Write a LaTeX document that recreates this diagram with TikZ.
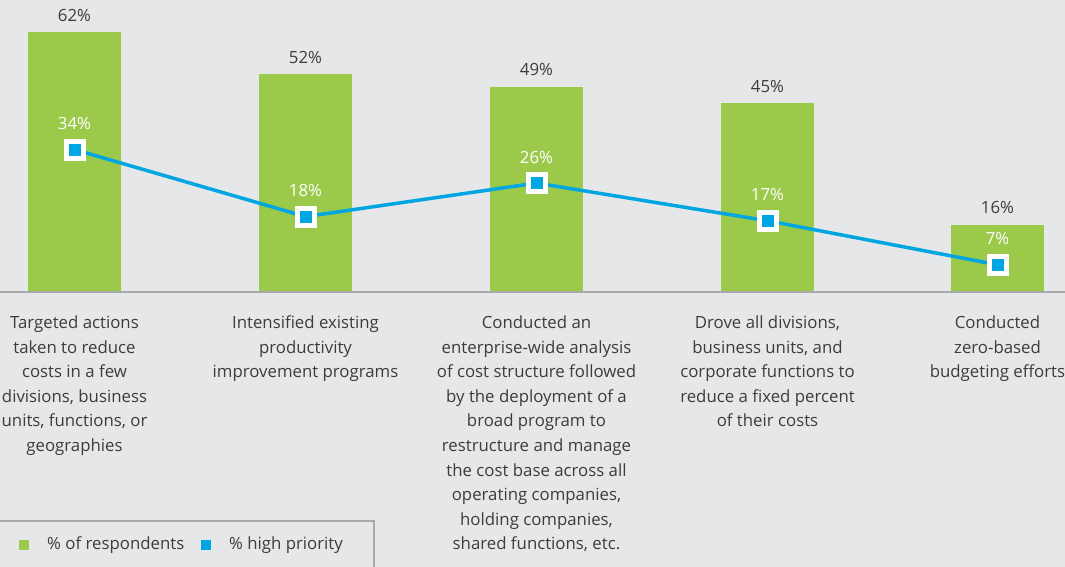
\documentclass[tikz,border=0pt]{standalone}
\usepackage{fontspec}
\setmainfont{Open Sans}
\definecolor{bg}{HTML}{E6E7E8}
\definecolor{bargreen}{HTML}{9BCA4B}
\definecolor{lineblue}{HTML}{00A6E2}
\definecolor{txt}{HTML}{3C3C3C}
\definecolor{axisgray}{HTML}{A8A9AB}
\begin{document}
\begin{tikzpicture}[x=1pt,y=-1pt,
  bar/.style={fill=bargreen,draw=none},
  toplabel/.style={text=txt,font=\fontsize{16.8}{20}\selectfont,anchor=center,inner sep=0pt},
  mklabel/.style={text=white,font=\fontsize{16.8}{20}\selectfont,anchor=center,inner sep=0pt},
  marker/.style={draw=white,line width=5pt,fill=lineblue,minimum size=17pt,inner sep=0pt},
  catlabel/.style={text=txt,font=\fontsize{16.8}{24.6}\selectfont,align=center,anchor=north,inner sep=0pt},
  legtext/.style={text=txt,font=\fontsize{16.8}{20}\selectfont,anchor=west,inner sep=0pt},
  legsq/.style={minimum size=10pt,inner sep=0pt,draw=none}]
\useasboundingbox[fill=bg] (0,0) rectangle (1065,567);
% bars
\foreach \cx/\v/\name in {74.5/62/b1,305.5/52/b2,536.5/49/b3,767.5/45/b4,997.5/16/b5}{
  \fill[bar] (\cx-46.5,292) rectangle (\cx+46.5,292-4.19*\v);
  \node[toplabel] (\name t) at (\cx,292-4.19*\v-17) {\v\%};
}
% axis
\draw[axisgray,line width=2pt] (0,292) -- (1065,292);
% markers
\foreach \cx/\v/\name in {74.5/34/m1,305.5/18/m2,536.5/26/m3,767.5/17/m4,997.5/6.5/m5}{
  \coordinate (\name) at (\cx,292-4.19*\v);
}
\draw[lineblue,line width=3.5pt] (m1) -- (m2) -- (m3) -- (m4) -- (m5);
\foreach \n/\v in {m1/34,m2/18,m3/26,m4/17,m5/7}{
  \node[marker] (\n s) at (\n) {};
  \node[mklabel] (\n l) at ([yshift=26pt]\n) {\v\%};
}
% category labels
\node[catlabel] (c1) at (74.5,315.5) {Targeted actions\\taken to reduce\\costs in a few\\divisions, business\\units, functions, or\\geographies};
\node[catlabel] (c2) at (305.5,315.5) {Intensified existing\\productivity\\improvement programs};
\node[catlabel] (c3) at (536.5,315.5) {Conducted an\\enterprise-wide analysis\\of cost structure followed\\by the deployment of a\\broad program to\\restructure and manage\\the cost base across all\\operating companies,\\holding companies,\\shared functions, etc.};
\node[catlabel] (c4) at (767.5,315.5) {Drove all divisions,\\business units, and\\corporate functions to\\reduce a fixed percent\\of their costs};
\node[catlabel] (c5) at (997.5,315.5) {Conducted\\zero-based\\budgeting efforts};
% legend
\draw[axisgray,line width=1.5pt] (-5,521) -- (374,521) -- (374,572);
\node[legsq,fill=bargreen] (lg1) at (24,545) {};
\node[legtext] (lt1) at (47,545) {\% of respondents};
\node[legsq,fill=lineblue] (lg2) at (206,545) {};
\node[legtext] (lt2) at (229,545) {\% high priority};
\end{tikzpicture}
\end{document}
